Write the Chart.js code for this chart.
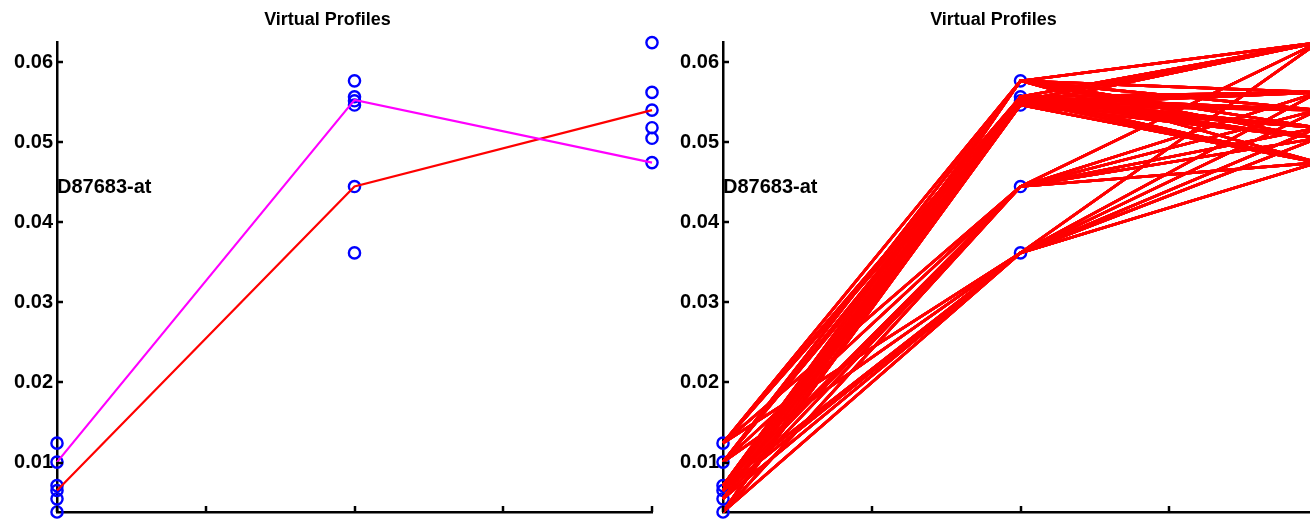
<!DOCTYPE html>
<html>
<head>
<meta charset="utf-8">
<title>Virtual Profiles</title>
<script src="https://cdn.jsdelivr.net/npm/chart.js@4/dist/chart.umd.min.js"></script>
<style>
    html, body { margin: 0; padding: 0; background: #fff; overflow: hidden; }
    #wrap { position: relative; width: 1310px; height: 520px; overflow: hidden; }
    canvas { position: absolute; top: 0; }
    #left-chart { left: 0; }
    #right-chart { left: 666px; }
</style>
</head>
<body>
<div id="wrap">
    <canvas id="left-chart" width="660" height="520"></canvas>
    <canvas id="right-chart" width="660" height="520"></canvas>
</div>
<script>
// values
const timepoints = [1, 2, 3];
const obsT1 = [0.01242, 0.01005, 0.00712, 0.00650, 0.00546, 0.00382];
const obsT2 = [0.05767, 0.05568, 0.05518, 0.05465, 0.04447, 0.03618];
const obsT3 = [0.06245, 0.05623, 0.05402, 0.05182, 0.05050, 0.04746];
const magentaProfile = [0.01005, 0.05530, 0.04746];
const redProfile = [0.00650, 0.04447, 0.05402];
const yTicks = [0.01, 0.02, 0.03, 0.04, 0.05, 0.06];
const xTicks = [1, 1.5, 2, 2.5, 3];
const geneLabel = 'D87683-at';
const geneLabelY = 0.0443;
const titleText = 'Virtual Profiles';

const FONT = "'Liberation Sans', Arial, Helvetica, sans-serif";
Chart.defaults.font.family = FONT;
Chart.defaults.color = '#000';

const allObs = obsT1.concat(obsT2, obsT3);
const yMin = Math.min.apply(null, allObs);
const yMax = Math.max.apply(null, allObs);

function toPoints(values) {
    return values.map((v, i) => ({ x: timepoints[i], y: v }));
}

function observedDataset() {
    const pts = [];
    [obsT1, obsT2, obsT3].forEach((vals, i) => {
        vals.forEach(v => pts.push({ x: timepoints[i], y: v }));
    });
    return {
        type: 'scatter',
        data: pts,
        showLine: false,
        pointStyle: 'circle',
        pointRadius: 5.6,
        pointBorderWidth: 2.4,
        pointBorderColor: '#0000ff',
        pointBackgroundColor: 'rgba(0,0,0,0)',
        clip: false,
        order: 10
    };
}

function lineDataset(values, color, width) {
    return {
        type: 'line',
        data: toPoints(values),
        borderColor: color,
        borderWidth: width,
        pointRadius: 0,
        fill: false,
        tension: 0,
        clip: false,
        order: 1
    };
}

// inward tick marks and the gene label
const axisDecor = {
    id: 'axisDecor',
    afterDraw(chart) {
        const ctx = chart.ctx;
        const area = chart.chartArea;
        const sx = chart.scales.x;
        const sy = chart.scales.y;
        ctx.save();
        ctx.strokeStyle = '#000';
        ctx.lineWidth = 2.5;
        yTicks.forEach(v => {
            const y = Math.round(sy.getPixelForValue(v));
            ctx.beginPath();
            ctx.moveTo(area.left, y);
            ctx.lineTo(area.left + 6, y);
            ctx.stroke();
        });
        xTicks.forEach(v => {
            const x = Math.round(sx.getPixelForValue(v));
            ctx.beginPath();
            ctx.moveTo(x, area.bottom);
            ctx.lineTo(x, area.bottom - 6);
            ctx.stroke();
        });
        ctx.fillStyle = '#000';
        ctx.font = 'bold 20px ' + FONT;
        ctx.textAlign = 'left';
        ctx.textBaseline = 'middle';
        ctx.fillText(geneLabel, sx.getPixelForValue(1), sy.getPixelForValue(geneLabelY));
        ctx.restore();
    }
};

function makeChart(canvasId, lineSets) {
    const ctx = document.getElementById(canvasId).getContext('2d');
    return new Chart(ctx, {
        type: 'scatter',
        data: { datasets: lineSets.concat([observedDataset()]) },
        options: {
            responsive: false,
            animation: false,
            events: [],
            layout: { padding: { left: 0, right: 5, top: 0, bottom: 0 } },
            plugins: {
                legend: { display: false },
                tooltip: { enabled: false },
                title: {
                    display: true,
                    text: titleText,
                    font: { size: 18, weight: 'bold' },
                    padding: { top: 9, bottom: 12 }
                }
            },
            scales: {
                x: {
                    type: 'linear',
                    min: 1,
                    max: 3,
                    grid: { display: false, drawTicks: false },
                    border: { display: true, color: '#000', width: 2.5 },
                    ticks: { display: false },
                    afterFit: function (scale) { scale.height = 7.3; }
                },
                y: {
                    type: 'linear',
                    min: yMin,
                    max: yMax,
                    grid: { display: false, drawTicks: false },
                    border: { display: true, color: '#000', width: 2.5 },
                    ticks: {
                        padding: 4,
                        font: { size: 20, weight: 'bold' },
                        callback: v => v.toFixed(2)
                    },
                    afterBuildTicks: function (scale) {
                        scale.ticks = yTicks.map(v => ({ value: v }));
                    },
                    afterFit: function (scale) {
                        scale.width = 57;
                        scale.paddingTop = 0;
                        scale.paddingBottom = 0;
                    }
                }
            }
        },
        plugins: [axisDecor]
    });
}

// left: two chosen profiles
makeChart('left-chart', [
    lineDataset(magentaProfile, '#ff00ff', 2.2),
    lineDataset(redProfile, '#ff0000', 2.2)
]);

// right: every combination of the replicate values
const virtualProfiles = [];
obsT1.forEach(a => {
    obsT2.forEach(b => {
        obsT3.forEach(c => {
            virtualProfiles.push(lineDataset([a, b, c], '#ff0000', 2.6));
        });
    });
});
makeChart('right-chart', virtualProfiles);
</script>
</body>
</html>
